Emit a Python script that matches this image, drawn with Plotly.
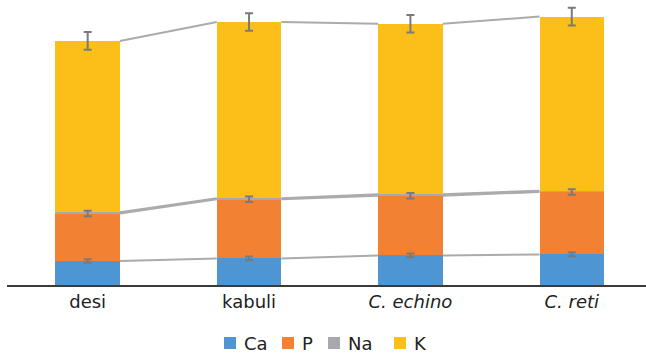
import plotly.graph_objects as go
import numpy as np

# Mineral composition per chickpea type (mg/100 g)
categories = ["desi", "kabuli", "<i>C. echino</i>", "<i>C. reti</i>"]
ca = [156, 173, 192, 199]
p = [309, 384, 388, 406]
na = [8, 7, 9, 8]
k = [1113, 1145, 1109, 1131]

ca_err = [12, 12, 12, 12]
p_err = [18, 18, 18, 18]
k_err = [58, 57, 57, 58]

colors = {"Ca": "#4E95D3", "P": "#F28134", "Na": "#A9A9AD", "K": "#FCBE19"}
FONT = "DejaVu Sans, sans-serif"
TEXT = "#222222"
BAR_W = 0.4
Y_MAX = 1852

W, H = 646, 356
M_L, M_R, M_T, M_B = 7, 0, 0, 71
PLOT_W, PLOT_H = W - M_L - M_R, H - M_T - M_B

x = np.arange(len(categories))
fig = go.Figure()

series = [("Ca", ca), ("P", p), ("Na", na), ("K", k)]
for name, vals in series:
    fig.add_trace(go.Bar(
        x=x, y=vals, name=name, width=BAR_W, showlegend=False,
        marker=dict(color=colors[name], line=dict(width=0)),
    ))

# cumulative tops of each stacked segment
tops = np.cumsum(np.array([v for _, v in series], dtype=float), axis=0)

# series lines joining segment tops between neighbouring bars
for level in tops:
    xs, ys = [], []
    for i in range(len(categories) - 1):
        xs += [x[i] + BAR_W / 2, x[i + 1] - BAR_W / 2, None]
        ys += [level[i], level[i + 1], None]
    fig.add_trace(go.Scatter(
        x=xs, y=ys, mode="lines", showlegend=False, hoverinfo="skip",
        line=dict(color="#ABABAE", width=2),
    ))

# error bars at the top of Ca, P and K segments
for level, err in [(tops[0], ca_err), (tops[1], p_err), (tops[3], k_err)]:
    fig.add_trace(go.Scatter(
        x=x, y=level, mode="markers", showlegend=False, hoverinfo="skip",
        marker=dict(size=1, color="rgba(0,0,0,0)"),
        error_y=dict(type="data", array=err, visible=True,
                     color="#7A7A7A", thickness=2, width=4),
    ))

# legend row under the axis: swatch left edges in pixels
def px_x(v):
    return (v - M_L) / PLOT_W

def px_y(v):
    return (H - M_B - v) / PLOT_H

swatch_left = [224, 282, 328, 394]
SW = 12
LEG_Y = 343
shapes, annotations = [], []
for (name, _), left in zip(series, swatch_left):
    shapes.append(dict(
        type="rect", xref="paper", yref="paper",
        x0=px_x(left), x1=px_x(left + SW),
        y0=px_y(LEG_Y + SW / 2), y1=px_y(LEG_Y - SW / 2),
        fillcolor=colors[name], line=dict(width=0),
    ))
    annotations.append(dict(
        text=name, xref="paper", yref="paper",
        x=px_x(left + SW + 6), y=px_y(LEG_Y),
        xanchor="left", yanchor="middle", showarrow=False,
        font=dict(family=FONT, size=18, color=TEXT),
    ))

fig.update_layout(
    width=W, height=H,
    barmode="stack",
    paper_bgcolor="white", plot_bgcolor="white",
    margin=dict(l=M_L, r=M_R, t=M_T, b=M_B),
    font=dict(family=FONT, size=18, color=TEXT),
    xaxis=dict(
        range=[-0.5, 3.46], tickmode="array", tickvals=list(x),
        ticktext=categories, showline=True, linecolor="#3A3A3A",
        linewidth=1.5, showgrid=False, zeroline=False, ticks="",
        tickfont=dict(family=FONT, size=18, color=TEXT),
    ),
    yaxis=dict(range=[0, Y_MAX], visible=False, showgrid=False),
    shapes=shapes,
    annotations=annotations,
    showlegend=False,
)

fig.write_html("out.html")
